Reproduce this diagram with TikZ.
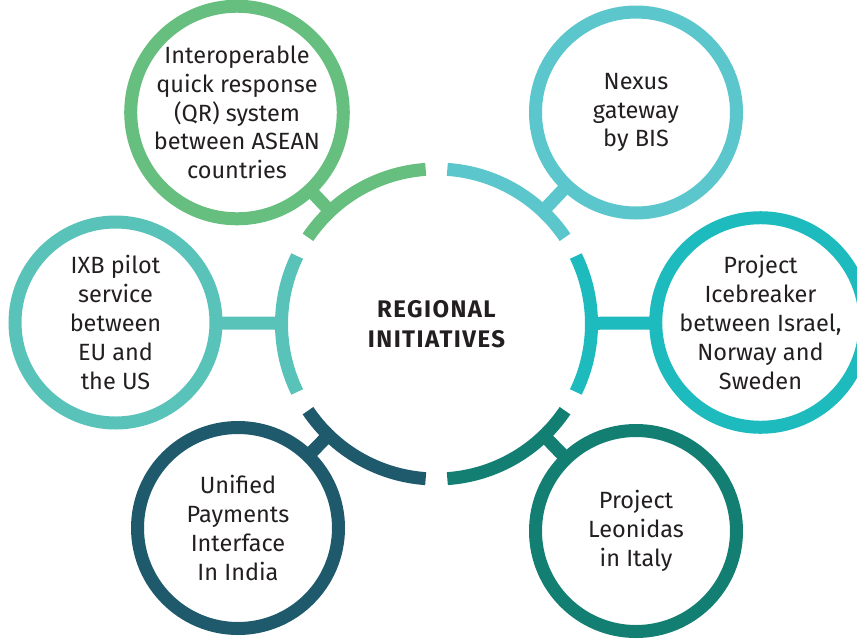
\documentclass[tikz,border=0pt]{standalone}
\usepackage{fontspec}
\setmainfont{Fira Sans}
\definecolor{cgreen}{HTML}{66BF7E}
\definecolor{cnexus}{HTML}{5CC6CD}
\definecolor{cice}{HTML}{1DBBBD}
\definecolor{cleo}{HTML}{127F72}
\definecolor{cupi}{HTML}{1E5A6B}
\definecolor{cixb}{HTML}{59C3B9}
\definecolor{txt}{HTML}{231F20}
\begin{document}
\begin{tikzpicture}[x=1pt,y=-1pt,
  item/.style={circle, draw=#1, line width=13pt, minimum size=201pt, inner sep=0pt,
    align=center, text=txt, font=\fontsize{23.5}{28.8}\selectfont},
  link/.style={line width=13pt, draw=#1, shorten <=-6pt, shorten >=-6pt},
  ringarc/.style={line width=13pt, draw=#1}]
\useasboundingbox (0,0) rectangle (857,638);
\node[circle, minimum size=310pt, inner sep=0pt, outer sep=0pt, align=center, text=txt,
  font=\fontsize{24}{30}\selectfont\bfseries\addfontfeature{LetterSpace=6}] (hub) at (436.5,324) {REGIONAL\\INITIATIVES};
\node[item=cgreen] (asean) at (237,112.5) {Interoperable\\quick response\\(QR) system\\between ASEAN\\countries};
\node[item=cnexus] (nexus) at (636,112.5) {Nexus\\gateway\\by BIS};
\node[item=cice] (ice) at (760.5,322.5) {Project\\Icebreaker\\between Israel,\\Norway and\\Sweden};
\node[item=cleo] (leo) at (636,531) {Project\\Leonidas\\in Italy};
\node[item=cupi] (upi) at (238,528) {Unified\\Payments\\Interface\\In India};
\node[item=cixb] (ixb) at (115.5,322.5) {IXB pilot\\service\\between\\EU and\\the US};
\draw[ringarc=cgreen] (hub.94) arc[start angle=94, end angle=146, radius=155pt];
\draw[ringarc=cnexus] (hub.34) arc[start angle=34, end angle=86, radius=155pt];
\draw[ringarc=cice] (hub.-26) arc[start angle=-26, end angle=26, radius=155pt];
\draw[ringarc=cleo] (hub.-86) arc[start angle=-86, end angle=-34, radius=155pt];
\draw[ringarc=cupi] (hub.214) arc[start angle=214, end angle=266, radius=155pt];
\draw[ringarc=cixb] (hub.154) arc[start angle=154, end angle=206, radius=155pt];
\draw[link=cgreen] (hub) -- (asean);
\draw[link=cnexus] (hub) -- (nexus);
\draw[link=cice] (hub) -- (ice);
\draw[link=cleo] (hub) -- (leo);
\draw[link=cupi] (hub) -- (upi);
\draw[link=cixb] (hub) -- (ixb);
\end{tikzpicture}
\end{document}
